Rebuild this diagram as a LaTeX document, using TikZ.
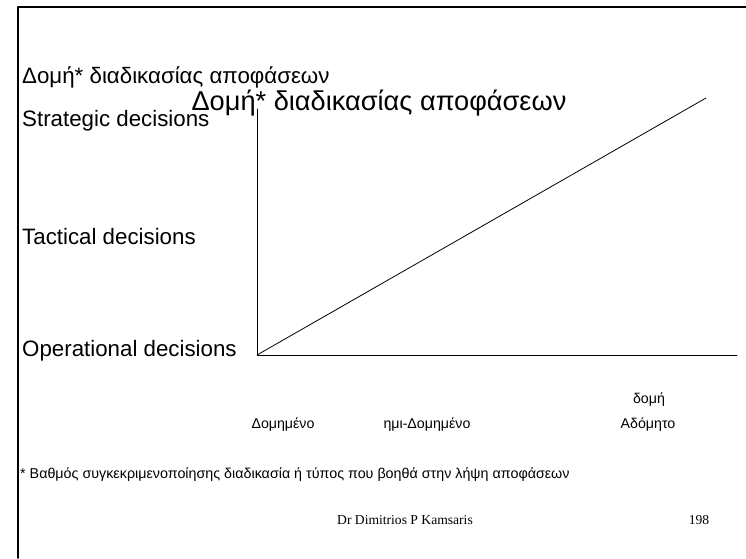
\documentclass[tikz,border=0pt]{standalone}
\usepackage{fontspec}
\setmainfont{Liberation Sans}
\newfontfamily\serifgr{Liberation Serif}
\tikzset{
	lbl/.style={inner sep=0pt, anchor=west, font=\fontsize{22.3}{26}\selectfont},
	axlbl/.style={inner sep=0pt, font=\fontsize{14.2}{17}\selectfont},
}
\begin{document}
\begin{tikzpicture}[x=1pt, y=-1pt, line join=round, line cap=round]
	\useasboundingbox (0,0) rectangle (746,558);
	\coordinate (O) at (257,355);
	\coordinate (T) at (257,109);
	\coordinate (X) at (737,355);
	\coordinate (D) at (706,98);
	\coordinate (BL) at (18,558);
	\coordinate (TL) at (18,7);
	\coordinate (TR) at (746,7);
	
	% πλαίσιο
	\draw[line width=1.6pt] (BL) -- (TL) -- (TR);
	
	\node[lbl] (small) at (22,77) {Δομή* διαδικασίας αποφάσεων};
	\node[inner sep=0pt, font=\fontsize{27.2}{32}\selectfont] (title) at (379,103) {Δομή* διαδικασίας αποφάσεων};
	\node[lbl] (strat) at (22,121) {Strategic decisions};
	\node[lbl] (tact) at (22,237) {Tactical decisions};
	\node[lbl] (oper) at (22,351) {Operational decisions};
	
	\draw[thick] (T) -- (O) -- (X);
	\draw[thick] (O) -- (D);
	
	\node[axlbl] (dom) at (649,400) {δομή};
	\node[axlbl] (struct) at (283,425) {Δομημένο};
	\node[axlbl] (semi) at (427,425) {ημι-Δομημένο};
	\node[axlbl] (unstruct) at (648,425) {Αδόμητο};
	
	\node[inner sep=0pt, anchor=west, font=\fontsize{14.3}{17}\selectfont] (note) at (20,475) {* Βαθμός συγκεκριμενοποίησης διαδικασία ή τύπος που βοηθά στην λήψη αποφάσεων};
	\node[inner sep=0pt, font=\serifgr\fontsize{13.6}{16}\selectfont] (author) at (405,520) {Dr Dimitrios P Kamsaris};
	\node[inner sep=0pt, font=\serifgr\fontsize{13.6}{16}\selectfont] (page) at (699,520) {198};
\end{tikzpicture}
\end{document}
